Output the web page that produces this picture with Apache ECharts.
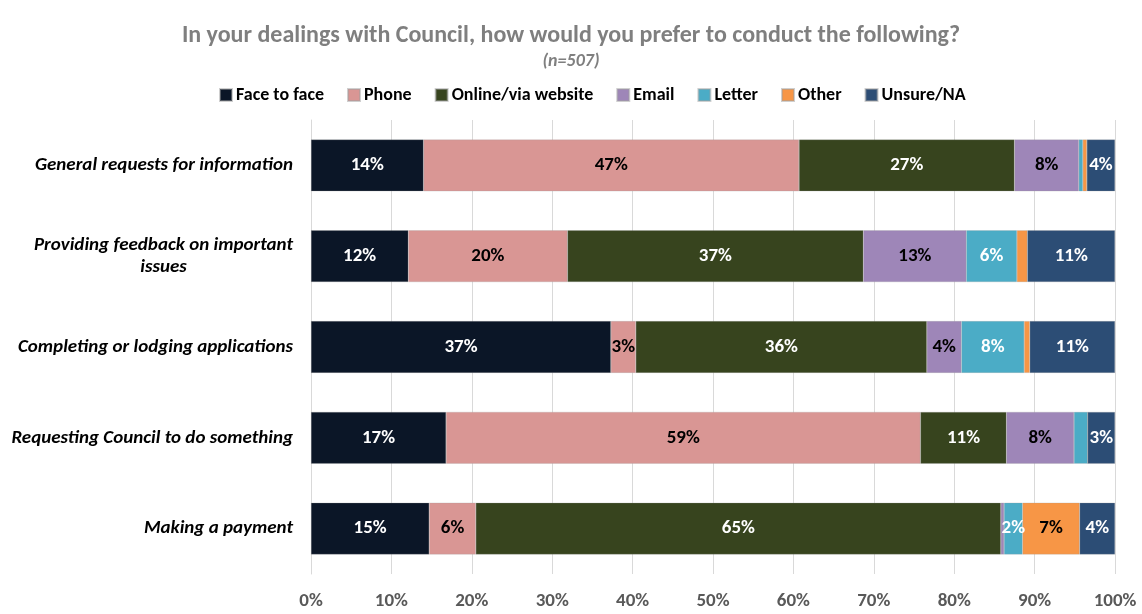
<!DOCTYPE html>
<html><head><meta charset="utf-8">
<script src="https://cdn.jsdelivr.net/npm/echarts@6/dist/echarts.min.js"></script>
<style>html,body{margin:0;padding:0;background:#fff}#c{width:1142px;height:614px}</style>
</head><body><div id="c"></div>
<script>
const categories = [
  "General requests for information",
  "Providing feedback on important\nissues",
  "Completing or lodging applications",
  "Requesting Council to do something",
  "Making a payment"
];
const seriesNames = ["Face to face","Phone","Online/via website","Email","Letter","Other","Unsure/NA"];
const faceToFace = [14.0, 12.1, 37.3, 16.8, 14.7];
const phone      = [46.7, 19.8, 3.1, 59.0, 5.8];
const online     = [26.8, 36.8, 36.2, 10.7, 65.3];
const email      = [8.0, 12.8, 4.3, 8.4, 0.4];
const letter     = [0.5, 6.3, 7.8, 1.7, 2.3];
const other      = [0.5, 1.3, 0.7, 0.0, 7.1];
const unsure     = [3.5, 10.9, 10.6, 3.4, 4.4];
const xTicks = [0,10,20,30,40,50,60,70,80,90,100];

const values = [faceToFace, phone, online, email, letter, other, unsure];
const colors = ["#0b1627","#d99694","#37441e","#9e86b8","#4bacc6","#f79646","#2c4d75"];
const labelColors = ["#fff","#000","#fff","#000","#fff","#000","#fff"];
const FONT = 'Carlito, "Liberation Sans Narrow", "Open Sans", sans-serif';

const cv = document.createElement('canvas').getContext('2d');
cv.font = 'italic bold 19px ' + FONT;
let wrapW = 0;
categories.forEach(c => { const ls = c.split('\n'); if (ls.length > 1) ls.forEach(l => { wrapW = Math.max(wrapW, cv.measureText(l).width); }); });

const chart = echarts.init(document.getElementById('c'));
chart.setOption({
  animation: false,
  backgroundColor: '#fff',
  title: {
    text: 'In your dealings with Council, how would you prefer to conduct the following?',
    subtext: '(n=507)',
    left: 'center', top: 19, itemGap: 4,
    textStyle: {fontFamily: FONT, fontWeight: 'bold', fontSize: 24, color: '#7f7f7f'},
    subtextStyle: {fontFamily: FONT, fontWeight: 'bold', fontStyle: 'italic', fontSize: 18, color: '#7f7f7f'}
  },
  legend: {
    top: 81, left: 214, itemWidth: 12, itemHeight: 12, itemGap: 23,
    icon: 'rect',
    textStyle: {fontFamily: FONT, fontWeight: 'bold', fontSize: 18, color: '#000', padding: [0,0,0,-1]},
    data: seriesNames
  },
  grid: {left: 311, right: 27, top: 120, bottom: 40, containLabel: false},
  xAxis: {
    type: 'value', min: 0, max: 100, interval: 10,
    axisLabel: {formatter: v => v + '%', fontFamily: FONT, fontWeight: 'bold', fontSize: 19, color: '#595959', margin: 18},
    splitLine: {show: true, lineStyle: {color: '#d9d9d9', width: 1}},
    axisLine: {show: false}, axisTick: {show: false}
  },
  yAxis: {
    type: 'category', inverse: true, data: categories,
    axisLine: {show: true, lineStyle: {color: '#d9d9d9'}}, axisTick: {show: false},
    axisLabel: {
      margin: 18, color: '#000',
      fontFamily: FONT, fontWeight: 'bold', fontStyle: 'italic', fontSize: 19, lineHeight: 22,
      formatter: function (v) {
        const lines = v.split('\n');
        if (lines.length === 1) return v;
        return lines.map(l => '{c|' + l + '}').join('\n');
      },
      rich: {c: {fontFamily: FONT, fontWeight: 'bold', fontStyle: 'italic', fontSize: 19, lineHeight: 22, align: 'center', width: Math.ceil(wrapW)}}
    }
  },
  series: seriesNames.map((n, i) => ({
    name: n, type: 'bar', stack: 'all', barWidth: '57%',
    data: values[i],
    itemStyle: {color: colors[i], borderColor: 'rgba(160,160,160,0.5)', borderWidth: 0.5},
    label: {
      show: true, position: 'inside',
      color: labelColors[i], fontFamily: FONT, fontWeight: 'bold', fontSize: 19,
      formatter: p => p.value >= 1.6 && !(i === 4 && p.dataIndex === 3) ? Math.round(p.value) + '%' : ''
    }
  }))
});
</script></body></html>
